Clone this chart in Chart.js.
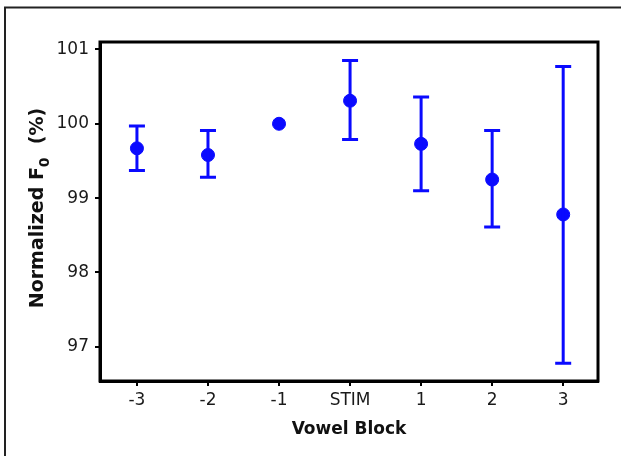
<!DOCTYPE html>
<html>
<head>
<meta charset="utf-8">
<script src="https://cdn.jsdelivr.net/npm/chart.js@4"></script>
<style>
  html, body { margin: 0; padding: 0; background: #fff; }
  #wrap { position: relative; width: 621px; height: 456px; }
</style>
</head>
<body>
<div id="wrap"><canvas id="f0Chart" width="621" height="456"></canvas></div>
<script>
'use strict';

// ── Data ──
const blocks = ['-3', '-2', '-1', 'STIM', '1', '2', '3'];
const means  = [99.67, 99.58, 100.0, 100.31, 99.73, 99.25, 98.78];
const upper  = [99.97, 99.91, 100.0, 100.85, 100.36, 99.91, 100.77];
const lower  = [99.37, 99.28, 100.0, 99.79, 99.10, 98.61, 96.78];
const yTicks = [97, 98, 99, 100, 101];

const BLUE = '#0a0aff';
const FONT = "'DejaVu Sans', sans-serif";

// ── Error bars + frame + axis titles ──
const extras = {
  id: 'extras',
  afterDatasetsDraw(chart) {
    const { ctx, scales: { x, y } } = chart;
    ctx.save();
    ctx.strokeStyle = BLUE;
    ctx.lineWidth = 3;
    blocks.forEach((b, i) => {
      if (upper[i] === lower[i]) return;
      const px = x.getPixelForValue(i);
      const top = y.getPixelForValue(upper[i]);
      const bot = y.getPixelForValue(lower[i]);
      ctx.beginPath();
      ctx.moveTo(px, top); ctx.lineTo(px, bot);
      ctx.moveTo(px - 8, top); ctx.lineTo(px + 8, top);
      ctx.moveTo(px - 8, bot); ctx.lineTo(px + 8, bot);
      ctx.stroke();
    });
    ctx.restore();
  },
  afterDraw(chart) {
    const { ctx, chartArea: a } = chart;
    ctx.save();
    // plot box
    ctx.strokeStyle = '#000';
    ctx.lineWidth = 3;
    ctx.strokeRect(a.left, a.top, a.right - a.left, a.bottom - a.top);
    // outer figure frame (top + left only)
    ctx.strokeStyle = '#222';
    ctx.lineWidth = 2;
    ctx.beginPath();
    ctx.moveTo(5, 456); ctx.lineTo(5, 7.5); ctx.lineTo(621, 7.5);
    ctx.stroke();

    ctx.fillStyle = '#111';
    // x title
    ctx.font = 'bold 17px ' + FONT;
    ctx.textAlign = 'center';
    ctx.textBaseline = 'middle';
    ctx.fillText('Vowel Block', (a.left + a.right) / 2, 430);

    // y title with subscript
    const main = 'bold 19px ' + FONT;
    const sub = 'bold 14px ' + FONT;
    ctx.font = main;
    const w1 = ctx.measureText('Normalized F').width;
    const w3 = ctx.measureText('  (%)').width;
    ctx.font = sub;
    const w2 = ctx.measureText('0').width;
    const total = w1 + w2 + w3;
    ctx.translate(38, 208);
    ctx.rotate(-Math.PI / 2);
    ctx.textAlign = 'left';
    ctx.textBaseline = 'middle';
    let cx = -total / 2;
    ctx.font = main;
    ctx.fillText('Normalized F', cx, 0);
    cx += w1;
    ctx.font = sub;
    ctx.fillText('0', cx, 7);
    cx += w2;
    ctx.font = main;
    ctx.fillText('  (%)', cx, 0);
    ctx.restore();
  }
};

new Chart(document.getElementById('f0Chart'), {
  type: 'scatter',
  data: {
    datasets: [{
      label: 'Normalized F0',
      data: means.map((m, i) => ({ x: i, y: m })),
      backgroundColor: BLUE,
      borderColor: BLUE,
      pointRadius: 6.5,
      pointHoverRadius: 6.5,
    }],
  },
  options: {
    responsive: false,
    animation: false,
    events: [],
    layout: { padding: { top: 42, right: 23, left: 0, bottom: 0 } },
    plugins: { legend: { display: false }, tooltip: { enabled: false } },
    scales: {
      x: {
        type: 'linear',
        min: -0.52,
        max: 6.49,
        afterFit: (s) => { s.height = 75; },
        afterBuildTicks: (s) => { s.ticks = blocks.map((b, i) => ({ value: i })); },
        ticks: {
          color: '#1a1a1a',
          font: { family: FONT, size: 17 },
          padding: 4,
          callback: (v) => blocks[v],
        },
        grid: { drawOnChartArea: false, drawTicks: true, tickLength: 5, color: '#000', lineWidth: 2 },
        border: { display: true, color: '#000', width: 3 },
      },
      y: {
        min: 96.54,
        max: 101.1,
        afterFit: (s) => { s.width = 100; },
        afterBuildTicks: (s) => { s.ticks = yTicks.map((v) => ({ value: v })); },
        ticks: {
          color: '#1a1a1a',
          font: { family: FONT, size: 17 },
          padding: 6,
        },
        grid: { drawOnChartArea: false, drawTicks: true, tickLength: 5, color: '#000', lineWidth: 2 },
        border: { display: true, color: '#000', width: 3 },
      },
    },
  },
  plugins: [extras],
});
</script>
</body>
</html>
